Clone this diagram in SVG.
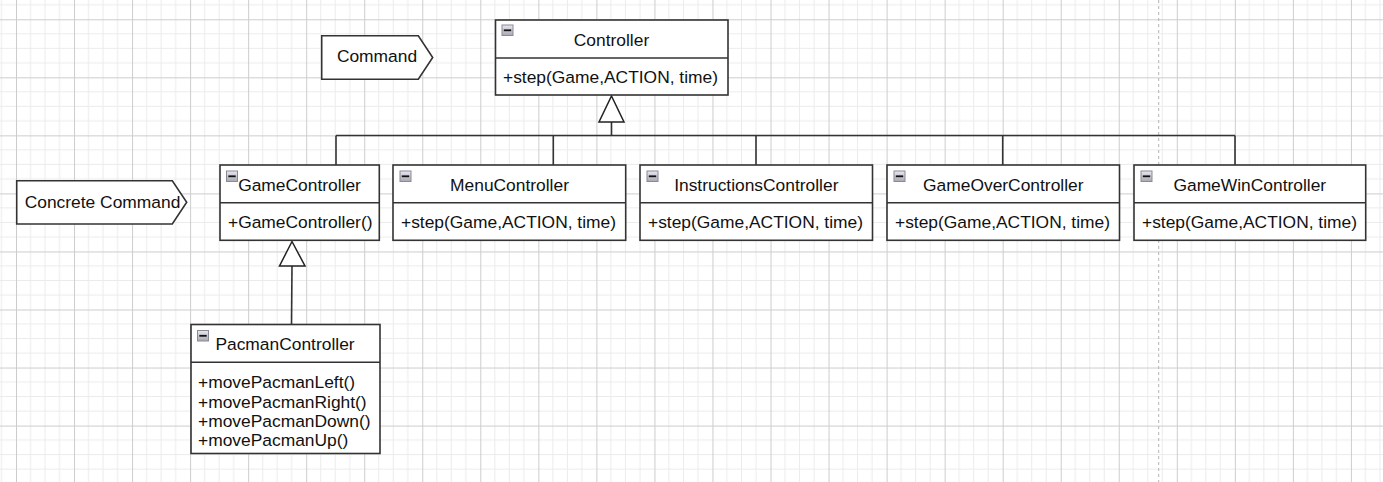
<svg xmlns="http://www.w3.org/2000/svg" width="1383" height="482" viewBox="0 0 1383 482">
<defs>
<pattern id="grid" patternUnits="userSpaceOnUse" x="16" y="19.3" width="58.04" height="58.04">
<path d="M14.51 0V58.04M29.02 0V58.04M43.53 0V58.04M0 14.51H58.04M0 29.02H58.04M0 43.53H58.04" stroke="#ebebeb" stroke-width="1" fill="none"/>
<path d="M0.5 0V58.04M0 0.5H58.04" stroke="#cccccc" stroke-width="1" fill="none"/>
</pattern>
<linearGradient id="ig" x1="0" y1="0" x2="0" y2="1">
<stop offset="0" stop-color="#e8e8f0"/>
<stop offset="1" stop-color="#a8a8b4"/>
</linearGradient>
<g id="icon">
<rect x="0.5" y="0.5" width="11" height="10.5" fill="url(#ig)" stroke="#8a8a96" stroke-width="1"/>
<rect x="2.3" y="4.9" width="7.4" height="1.8" fill="#111"/>
</g>
</defs>
<style>
.box{fill:#fff;stroke:#333;stroke-width:1.6}
.ln{fill:none;stroke:#333;stroke-width:1.6}
.tri{fill:#fff;stroke:#222;stroke-width:1.5}
text{font-family:"Liberation Sans",Arial,sans-serif;font-size:17.4px;fill:#111}
.c{text-anchor:middle}
</style>
<rect width="1383" height="482" fill="#fff"/>
<rect width="1383" height="482" fill="url(#grid)"/>
<line x1="1158.7" y1="0" x2="1158.7" y2="482" stroke="#b4b4b4" stroke-width="1" stroke-dasharray="3 3"/>

<g id="connectors">
<path class="ln" d="M611.5 122V135.5M336 135.5H1235M336 135.5V165M553.3 135.5V165M756 135.5V165M1002.7 135.5V165M1235 135.5V165"/>
<polygon class="tri" points="611.5,96 624,122 599,122"/>
<path class="ln" d="M292 266L291.5 324.5"/>
<polygon class="tri" points="292,241.5 305,266 279.5,266"/>
</g>

<g id="label-command">
<polygon class="box" points="321.7,35.7 418.3,35.7 432.7,57.5 418.3,79.3 321.7,79.3"/>
<text class="c" x="377" y="62.3">Command</text>
</g>

<g id="label-concrete-command">
<polygon class="box" points="16.7,180.7 172.3,180.7 186.7,202.3 172.3,224 16.7,224"/>
<text class="c" x="102.5" y="207.5">Concrete Command</text>
</g>

<g id="Controller">
<rect class="box" x="495.5" y="20" width="232.5" height="75"/>
<line class="ln" x1="495.5" y1="58" x2="728" y2="58"/>
<use href="#icon" x="501.5" y="24.5"/>
<text class="c" x="611.5" y="46">Controller</text>
<text x="503" y="83.3">+step(Game,ACTION, time)</text>
</g>

<g id="GameController">
<rect class="box" x="220" y="165" width="159.3" height="75.3"/>
<line class="ln" x1="220" y1="202.8" x2="379.3" y2="202.8"/>
<use href="#icon" x="226" y="170.5"/>
<text class="c" x="299.5" y="190.5">GameController</text>
<text x="228" y="228.3">+GameController()</text>
</g>

<g id="MenuController">
<rect class="box" x="393" y="165" width="232.7" height="75.3"/>
<line class="ln" x1="393" y1="202.8" x2="625.7" y2="202.8"/>
<use href="#icon" x="399.5" y="170.5"/>
<text class="c" x="509.5" y="190.5">MenuController</text>
<text x="401" y="228.3">+step(Game,ACTION, time)</text>
</g>

<g id="InstructionsController">
<rect class="box" x="640" y="165" width="232.5" height="75.3"/>
<line class="ln" x1="640" y1="202.8" x2="872.5" y2="202.8"/>
<use href="#icon" x="646.5" y="170.5"/>
<text class="c" x="756.3" y="190.5">InstructionsController</text>
<text x="648" y="228.3">+step(Game,ACTION, time)</text>
</g>

<g id="GameOverController">
<rect class="box" x="887" y="165" width="232.5" height="75.3"/>
<line class="ln" x1="887" y1="202.8" x2="1119.5" y2="202.8"/>
<use href="#icon" x="893.5" y="170.5"/>
<text class="c" x="1003.3" y="190.5">GameOverController</text>
<text x="895" y="228.3">+step(Game,ACTION, time)</text>
</g>

<g id="GameWinController">
<rect class="box" x="1134" y="165" width="231.7" height="75.3"/>
<line class="ln" x1="1134" y1="202.8" x2="1365.7" y2="202.8"/>
<use href="#icon" x="1140.5" y="170.5"/>
<text class="c" x="1249.8" y="190.5">GameWinController</text>
<text x="1142" y="228.3">+step(Game,ACTION, time)</text>
</g>

<g id="PacmanController">
<rect class="box" x="191" y="324.5" width="189" height="129"/>
<line class="ln" x1="191" y1="362.3" x2="380" y2="362.3"/>
<use href="#icon" x="197" y="330"/>
<text class="c" x="285" y="350">PacmanController</text>
<text x="198" y="388.3">+movePacmanLeft()</text>
<text x="198" y="407.5">+movePacmanRight()</text>
<text x="198" y="426.7">+movePacmanDown()</text>
<text x="198" y="445.9">+movePacmanUp()</text>
</g>
</svg>
